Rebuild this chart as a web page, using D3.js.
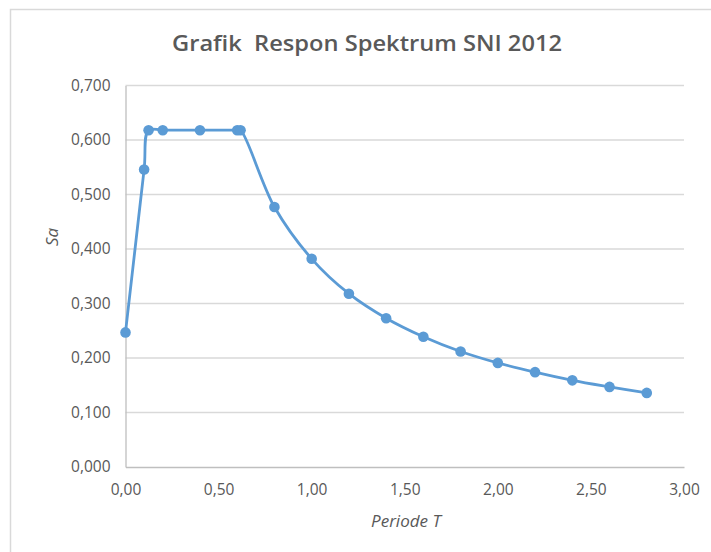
<!DOCTYPE html>
<html><head><meta charset="utf-8">
<script src="https://cdn.jsdelivr.net/npm/d3@7"></script>
<style>
body{margin:0;background:#fff;}
text{font-family:"Open Sans","Noto Sans",sans-serif;}
</style></head>
<body><svg id="c" width="711" height="552"></svg>
<script>
const periods = [0, 0.1, 0.124, 0.2, 0.4, 0.6, 0.618, 0.8, 1.0, 1.2, 1.4, 1.6, 1.8, 2.0, 2.2, 2.4, 2.6, 2.8];
const saValues = [0.247, 0.546, 0.618, 0.618, 0.618, 0.618, 0.618, 0.477, 0.382, 0.318, 0.273, 0.239, 0.212, 0.191, 0.174, 0.159, 0.147, 0.136];
const xTicks = [0, 0.5, 1.0, 1.5, 2.0, 2.5, 3.0];
const yTicks = [0, 0.1, 0.2, 0.3, 0.4, 0.5, 0.6, 0.7];
const title = "Grafik  Respon Spektrum SNI 2012";
const xLabel = "Periode T";
const yLabel = "Sa";

const svg = d3.select("#c");
const x = d3.scaleLinear().domain([0,3]).range([125.5, 684]);
const y = d3.scaleLinear().domain([0,0.7]).range([467, 85.5]);
const fmt = (d,n) => d.toFixed(n).replace(".", ",");

// chart frame
svg.append("rect").attr("x",10.5).attr("y",9.5).attr("width",720).attr("height",600)
  .attr("fill","#fff").attr("stroke","#d9d9d9").attr("stroke-width",1.5);

// gridlines
svg.append("g").selectAll("line").data(yTicks.filter(d=>d>0)).join("line")
  .attr("x1",x(0)).attr("x2",x(3)).attr("y1",d=>y(d)).attr("y2",d=>y(d))
  .attr("stroke","#d9d9d9").attr("stroke-width",1.3);

// axes
const yAxis = svg.append("g").attr("transform",`translate(${x(0)},0)`)
  .call(d3.axisLeft(y).tickValues(yTicks).tickSize(0).tickPadding(15).tickFormat(d=>fmt(d,3)));
const xAxis = svg.append("g").attr("transform",`translate(0,${y(0)})`)
  .call(d3.axisBottom(x).tickValues(xTicks).tickSize(0).tickPadding(17).tickFormat(d=>fmt(d,2)));
[yAxis,xAxis].forEach(g=>{
  g.select(".domain").attr("stroke","#bfbfbf").attr("stroke-width",1.3);
  g.selectAll("text").attr("fill","#595959").attr("font-size",15.5)
   .attr("font-family","'Open Sans',sans-serif");
});

// line
const pts = periods.map((t,i)=>[t, saValues[i]]);
svg.append("path").datum(pts)
  .attr("d", d3.line().x(d=>x(d[0])).y(d=>y(d[1])).curve(d3.curveCatmullRom.alpha(0.5)))
  .attr("fill","none").attr("stroke","#5b9bd5").attr("stroke-width",2.8);
svg.append("g").selectAll("circle").data(pts).join("circle")
  .attr("cx",d=>x(d[0])).attr("cy",d=>y(d[1])).attr("r",5.3)
  .attr("fill","#5b9bd5");

// title and labels
svg.append("text").attr("x",367).attr("y",51).attr("text-anchor","middle")
  .attr("font-size",21).attr("font-weight",600).attr("fill","#595959")
  .attr("textLength",390).attr("lengthAdjust","spacingAndGlyphs")
  .attr("xml:space","preserve").text(title);
svg.append("text").attr("x",406).attr("y",527).attr("text-anchor","middle")
  .attr("font-size",17).attr("font-style","italic").attr("fill","#595959").text(xLabel);
svg.append("text").attr("transform","translate(58,237) rotate(-90)").attr("text-anchor","middle")
  .attr("font-size",17).attr("font-style","italic").attr("fill","#595959").text(yLabel);
</script></body></html>
